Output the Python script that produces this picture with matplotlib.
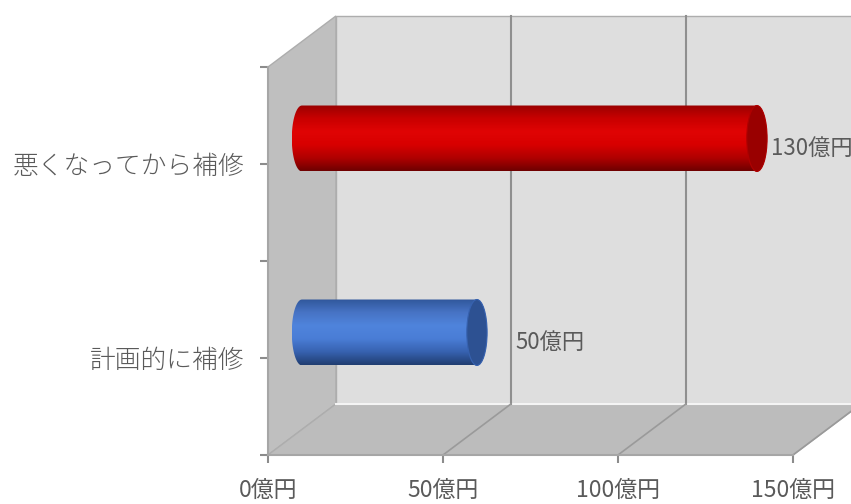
import numpy as np
import matplotlib.pyplot as plt
from matplotlib.path import Path
from matplotlib.patches import PathPatch, Polygon, Ellipse
from matplotlib.colors import LinearSegmentedColormap

plt.rcParams['font.family'] = ['Noto Sans CJK JP', 'DejaVu Sans']

categories = ['計画的に補修', '悪くなってから補修']
values = [50, 130]
value_labels = ['50億円', '130億円']
xticks = [0, 50, 100, 150]
xtick_labels = ['0億円', '50億円', '100億円', '150億円']

# bottom -> top shading of each cylinder, and colour of its end cap
shades = [
    ['#203d70', '#3762b0', '#4a7dd6', '#4f84dc', '#4773c4', '#30579b'],
    ['#6e0000', '#b00000', '#d80000', '#e00404', '#c80000', '#9a0000'],
]
cap_colors = ['#2d5192', '#990000']
label_offsets = [39, 14]   # pixels right of the cylinder end

TEXT = '#5a5a5a'
DX, DY = 19.4, 0.263        # depth of the 3D box, in data units
BAR_H = 0.34                # cylinder thickness (category units)
CAP_A = 2.9                 # half width of the end ellipse (value units)
XMAX = 150
YMIN, YMAX = -0.5, 1.5

fig = plt.figure(figsize=(8.51, 5.04), dpi=100)
ax = fig.add_axes([268 / 851, 49 / 504, 525 / 851, 388 / 504])
ax.set_facecolor('none')


def face(pts, color, z):
    ax.add_patch(Polygon(pts, closed=True, facecolor=color, edgecolor='#adadad',
                         lw=1, clip_on=False, zorder=z))


# back wall, side wall, floor
face([(DX, YMIN + DY), (XMAX + 2 * DX, YMIN + DY), (XMAX + 2 * DX, YMAX + DY), (DX, YMAX + DY)],
     '#dedede', 0.3)
face([(0, YMIN), (DX, YMIN + DY), (DX, YMAX + DY), (0, YMAX)], '#bfbfbf', 0.4)
face([(0, YMIN), (XMAX, YMIN), (XMAX + DX, YMIN + DY), (DX, YMIN + DY)], '#bcbcbc', 0.4)
ax.plot([DX, XMAX + 2 * DX], [YMIN + DY, YMIN + DY], color='#f4f4f4', lw=1.5,
        clip_on=False, zorder=0.45)

# grid lines on the back wall and across the floor
for t in xticks[1:]:
    ax.plot([t + DX, t + DX], [YMIN + DY, YMAX + DY], color='#8f8f8f', lw=1.5,
            clip_on=False, zorder=0.5)
    ax.plot([t, t + DX], [YMIN, YMIN + DY], color='#9a9a9a', lw=1.2,
            clip_on=False, zorder=0.5)

# cylinders
th = np.linspace(np.pi / 2, -np.pi / 2, 40)
for i, v in enumerate(values):
    x0, x1 = DX / 2, v + DX / 2
    yc = i + DY / 2
    right = np.column_stack([x1 + CAP_A * np.cos(th), yc + BAR_H / 2 * np.sin(th)])
    left = np.column_stack([x0 - CAP_A * np.cos(th), yc - BAR_H / 2 * np.sin(th)])
    verts = np.vstack([right, left, right[:1]])
    body = PathPatch(Path(verts), facecolor='none', edgecolor='none', zorder=3)
    ax.add_patch(body)
    cmap = LinearSegmentedColormap.from_list('cyl%d' % i, shades[i])
    im = ax.imshow(np.linspace(0, 1, 256).reshape(-1, 1), cmap=cmap, origin='lower',
                   extent=(x0 - CAP_A, x1 + CAP_A, yc - BAR_H / 2, yc + BAR_H / 2),
                   aspect='auto', interpolation='bilinear', zorder=3)
    im.set_clip_path(body)
    ax.add_patch(Ellipse((x1, yc), 2 * CAP_A, BAR_H, facecolor=cap_colors[i],
                         edgecolor=shades[i][1], lw=0.8, zorder=4))
    ax.annotate(value_labels[i], (x1, yc), xytext=(label_offsets[i], -10),
                textcoords='offset pixels', ha='left', va='center',
                fontsize=16, color=TEXT, annotation_clip=False, zorder=5)

ax.set_xlim(0, XMAX)
ax.set_ylim(YMIN, YMAX)

ax.set_xticks(xticks)
ax.set_xticklabels(xtick_labels)
ax.set_yticks([-0.5, 0, 0.5, 1, 1.5])
ax.set_yticklabels(['', categories[0], '', categories[1], ''])
ax.tick_params(axis='x', direction='out', length=6, width=1.5, color='#8c8c8c',
               labelsize=16.5, labelcolor=TEXT, pad=11)
ax.tick_params(axis='y', direction='out', length=6, width=1.5, color='#8c8c8c',
               labelsize=18.5, labelcolor=TEXT, pad=11)
for lbl in ax.get_yticklabels():
    lbl.set_fontweight('light')
for s in ['top', 'right']:
    ax.spines[s].set_visible(False)
for s in ['left', 'bottom']:
    ax.spines[s].set_color('#a6a6a6')
    ax.spines[s].set_linewidth(1.5)
    ax.spines[s].set_zorder(2)

fig.savefig('out.png', dpi=100, facecolor='white')
